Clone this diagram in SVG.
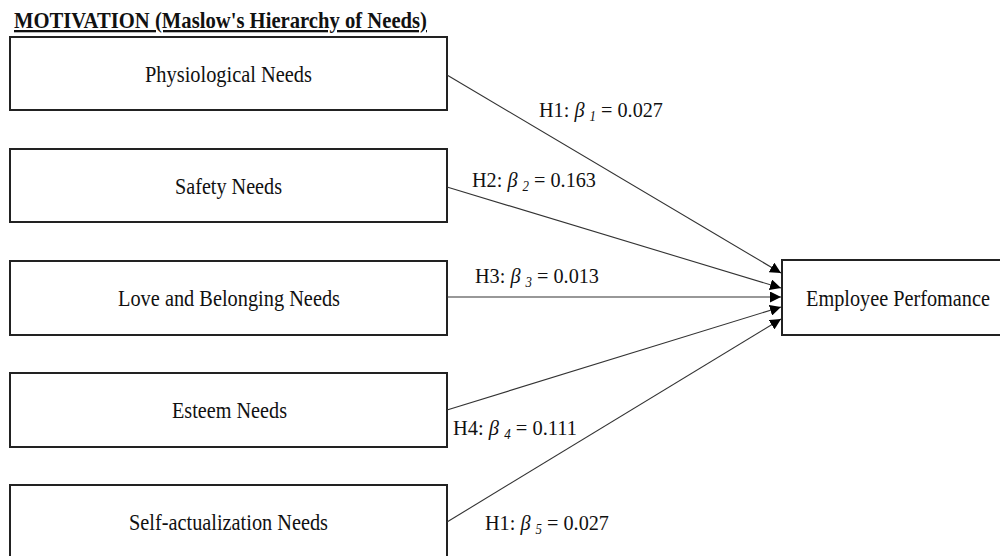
<svg xmlns="http://www.w3.org/2000/svg" width="1000" height="556" viewBox="0 0 1000 556">
<defs>
<style>
.box{fill:#fff;stroke:#222;stroke-width:2}
.t{font-family:"Liberation Serif","Times New Roman",serif;font-size:23px;fill:#111}
.lbl{font-family:"Liberation Serif","Times New Roman",serif;font-size:22px;fill:#111}
.it{font-style:italic}
.sub{font-style:italic;font-size:14px}
.edge{stroke:#333;stroke-width:1.1;fill:none}
</style>
<marker id="arr" viewBox="0 0 10 10" refX="10" refY="5" markerWidth="11" markerHeight="11" markerUnits="userSpaceOnUse" orient="auto">
<path d="M0,0 L10,5 L0,10 z" fill="#000"/>
</marker>
</defs>
<rect width="1000" height="556" fill="#fff"/>
<g id="title">
<text x="14" y="28" class="t" font-weight="bold" text-decoration="underline" textLength="413" lengthAdjust="spacingAndGlyphs">MOTIVATION (Maslow's Hierarchy of Needs)</text>
</g>
<g id="node-physiological">
<rect class="box" x="10" y="37" width="437" height="73"/>
<text class="t" x="145" y="82" textLength="167" lengthAdjust="spacingAndGlyphs">Physiological Needs</text>
</g>
<g id="node-safety">
<rect class="box" x="10" y="149" width="437" height="73"/>
<text class="t" x="175" y="194" textLength="107" lengthAdjust="spacingAndGlyphs">Safety Needs</text>
</g>
<g id="node-love">
<rect class="box" x="10" y="261" width="437" height="74"/>
<text class="t" x="118" y="306" textLength="222" lengthAdjust="spacingAndGlyphs">Love and Belonging Needs</text>
</g>
<g id="node-esteem">
<rect class="box" x="10" y="373" width="437" height="74"/>
<text class="t" x="172" y="418" textLength="115" lengthAdjust="spacingAndGlyphs">Esteem Needs</text>
</g>
<g id="node-self">
<rect class="box" x="10" y="485" width="437" height="80"/>
<text class="t" x="129" y="530" textLength="199" lengthAdjust="spacingAndGlyphs">Self-actualization Needs</text>
</g>
<g id="node-performance">
<rect class="box" x="782" y="260" width="222" height="75"/>
<text class="t" x="806" y="306" textLength="184" lengthAdjust="spacingAndGlyphs">Employee Perfomance</text>
</g>
<g id="connectors">
<line class="edge" x1="447" y1="75" x2="781" y2="273" marker-end="url(#arr)"/>
<line class="edge" x1="447" y1="187" x2="781" y2="288" marker-end="url(#arr)"/>
<line class="edge" x1="447" y1="297" x2="781" y2="297" marker-end="url(#arr)"/>
<line class="edge" x1="447" y1="410" x2="781" y2="307" marker-end="url(#arr)"/>
<line class="edge" x1="447" y1="522" x2="781" y2="319" marker-end="url(#arr)"/>
</g>
<g id="labels">
<text class="lbl" x="539" y="117" textLength="124" lengthAdjust="spacingAndGlyphs">H1: <tspan class="it">β</tspan> <tspan class="sub" dy="4">1</tspan><tspan dy="-4"> = 0.027</tspan></text>
<text class="lbl" x="472" y="187" textLength="124" lengthAdjust="spacingAndGlyphs">H2: <tspan class="it">β</tspan> <tspan class="sub" dy="4">2</tspan><tspan dy="-4"> = 0.163</tspan></text>
<text class="lbl" x="475" y="283" textLength="124" lengthAdjust="spacingAndGlyphs">H3: <tspan class="it">β</tspan> <tspan class="sub" dy="4">3</tspan><tspan dy="-4"> = 0.013</tspan></text>
<text class="lbl" x="453" y="435" textLength="124" lengthAdjust="spacingAndGlyphs">H4: <tspan class="it">β</tspan> <tspan class="sub" dy="4">4</tspan><tspan dy="-4"> = 0.111</tspan></text>
<text class="lbl" x="485" y="530" textLength="124" lengthAdjust="spacingAndGlyphs">H1: <tspan class="it">β</tspan> <tspan class="sub" dy="4">5</tspan><tspan dy="-4"> = 0.027</tspan></text>
</g>
</svg>
